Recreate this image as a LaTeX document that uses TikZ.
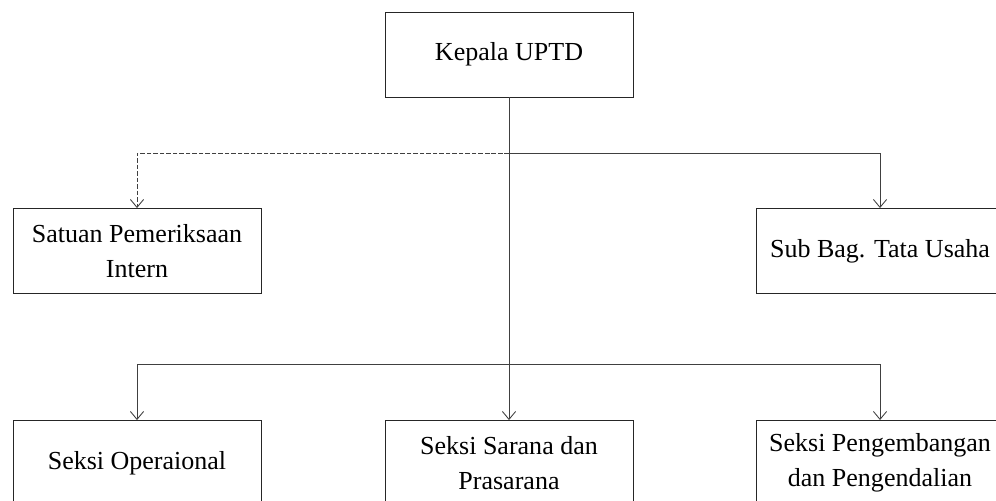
\documentclass[tikz,border=0pt]{standalone}
\usepackage{fontspec}
\setmainfont{Liberation Serif}
\usetikzlibrary{arrows.meta}
\begin{document}
\begin{tikzpicture}[
    line width=0.5pt,
    % Style for the unit boxes
    unit/.style={draw=black!85, rectangle, minimum width=4.96cm, minimum height=1.7cm,
        inner sep=0pt, align=center, font=\fontsize{14.8}{19.9}\selectfont},
    % Style for the command lines
    link/.style={draw=black!75, -{Straight Barb[length=4.5pt, width=7.5pt]}},
    % Style for the coordination line
    advise/.style={link, dash pattern=on 2.6pt off 1.1pt}
]
    \useasboundingbox (0,0) rectangle (19.92,-10.02);
    \clip (0,0) rectangle (19.92,-10.02);

    % --- 1. Draw Nodes ---
    \node[unit] (kepala) at (10.18,-1.09) {Kepala UPTD};

    \node[unit] (spi) at (2.74,-5.02) {Satuan Pemeriksaan\\Intern};
    \node[unit] (subbag) at (17.60,-5.02) {Sub Bag. Tata Usaha};

    \node[unit] (operasional) at (2.74,-9.26) {Seksi Operaional};
    \node[unit] (sarana) at (10.18,-9.26) {Seksi Sarana dan\\Prasarana};
    \node[unit] (pengembangan) at (17.60,-9.26) {Seksi Pengembangan\\dan Pengendalian};

    % --- 2. Define Junctions ---
    \coordinate (upper) at (kepala.south |- 0,-3.06);
    \coordinate (lower) at (kepala.south |- 0,-7.28);

    % --- 3. Draw Lines ---
    % Main trunk
    \draw[link] (kepala.south) -- (sarana.north);

    % Upper branch
    \draw[advise] (upper) -| (spi.north);
    \draw[link] (upper) -| (subbag.north);

    % Lower branch
    \draw[link] (lower) -| (operasional.north);
    \draw[link] (lower) -| (pengembangan.north);

\end{tikzpicture}
\end{document}
